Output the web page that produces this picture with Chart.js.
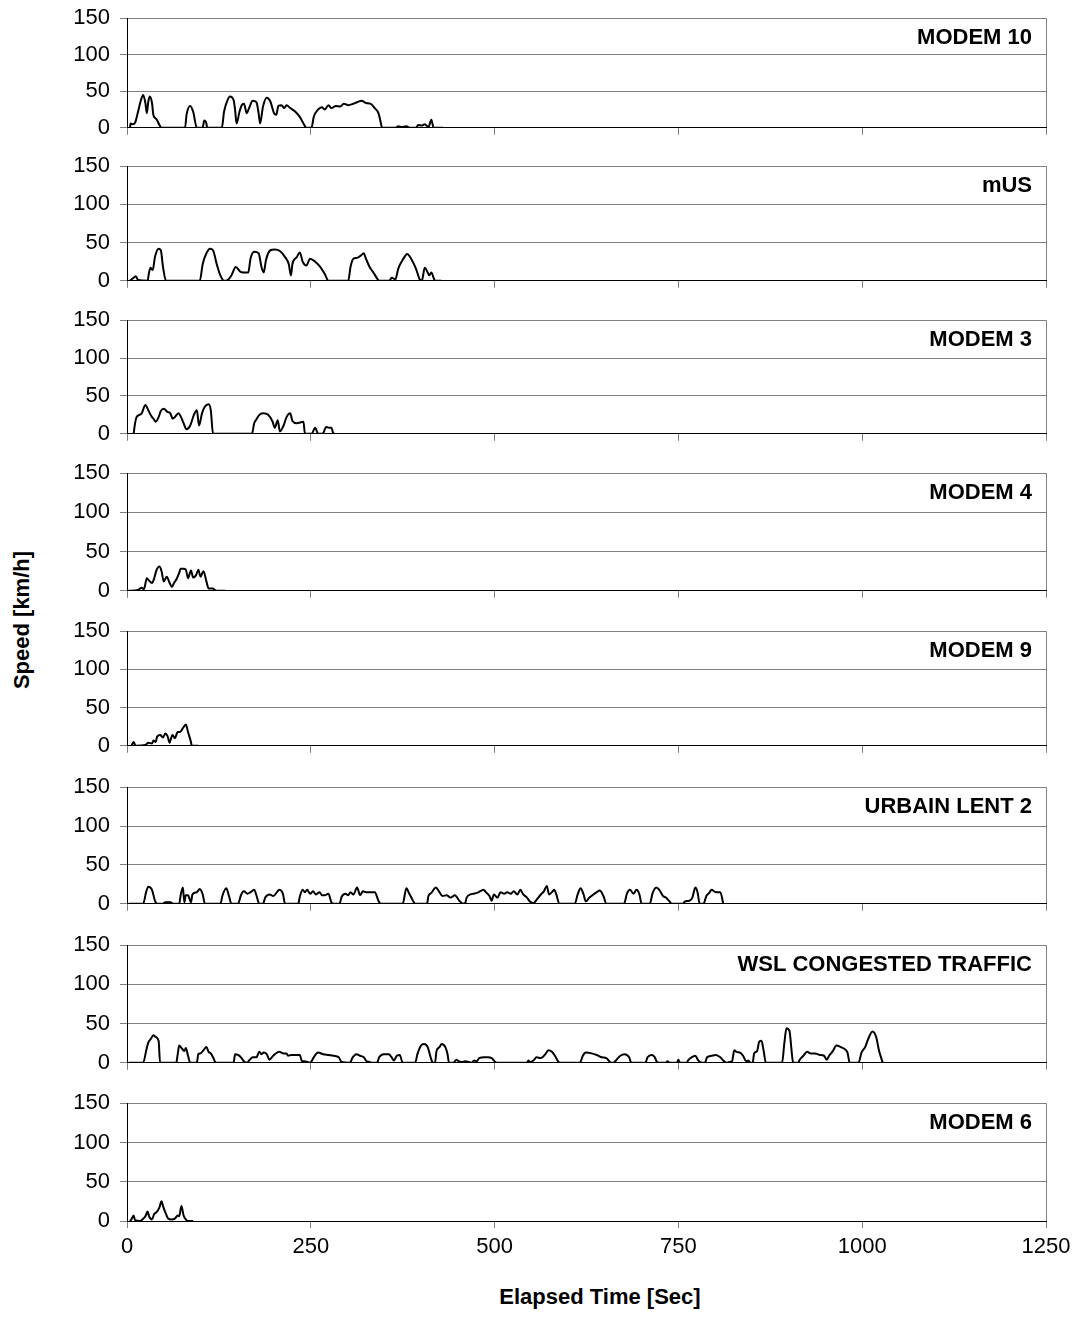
<!DOCTYPE html>
<html>
<head>
<meta charset="utf-8">
<title>Drive cycle speed traces</title>
<script src="https://cdn.jsdelivr.net/npm/chart.js@4.4.1/dist/chart.umd.min.js"></script>
<style>
  html, body { margin: 0; padding: 0; background: #fff; }
  body { position: relative; width: 1078px; height: 1317px; overflow: hidden;
         font-family: "Liberation Sans", Arial, sans-serif; color: #000; }
  canvas.panel { position: absolute; left: 0; }
  .axis-title { position: absolute; font-weight: bold; font-size: 22px; white-space: nowrap; }
  #xtitle { left: 600px; top: 1284px; transform: translateX(-50%); }
  #ytitle { left: 22px; top: 620px; transform: translate(-50%, -50%) rotate(-90deg); }
</style>
</head>
<body>
<div id="ytitle" class="axis-title">Speed [km/h]</div>
<div id="xtitle" class="axis-title">Elapsed Time [Sec]</div>
<script>
// Speed traces: [elapsed time (s), speed (km/h)]
const modem10 = [[4,0],[5,6],[8,5],[11,7],[15,22],[19,38],[22,45],[25,34],[27,20],[29,36],[31,43],[34,34],[36,17],[40,12],[44,4],[47,0],[79,0],[81,18],[86,30],[90,22],[95,0],[103,0],[105,10],[108,6],[109,0],[129,0],[132,22],[136,36],[140,43],[145,38],[147,25],[149,6],[153,22],[156,31],[159,33],[163,20],[166,27],[171,37],[176,35],[179,20],[181,6],[185,29],[190,41],[195,36],[200,20],[203,18],[206,30],[210,31],[214,27],[217,31],[222,27],[229,22],[235,15],[240,6],[244,0],[251,0],[254,15],[260,25],[265,28],[269,25],[274,31],[278,27],[284,30],[290,29],[295,33],[301,31],[308,33],[313,35],[319,37],[325,34],[331,33],[337,27],[342,20],[345,8],[347,0],[365,0],[369,2],[374,1],[380,2],[385,0],[393,0],[396,4],[401,3],[405,5],[410,1],[414,11],[417,0],[430,0]];

const mUS = [[4,0],[9,4],[12,6],[15,1],[28,0],[30,11],[32,17],[35,14],[38,31],[43,42],[46,40],[49,18],[53,0],[99,0],[103,22],[108,36],[113,42],[117,40],[122,22],[127,7],[132,0],[137,1],[142,7],[148,18],[154,12],[159,11],[165,11],[168,29],[173,38],[179,36],[183,18],[186,11],[189,27],[195,40],[201,41],[208,39],[215,31],[220,22],[223,7],[225,22],[231,31],[235,37],[239,25],[244,20],[249,29],[256,25],[263,18],[269,9],[274,0],[301,0],[304,18],[308,29],[313,30],[318,33],[322,36],[325,29],[330,18],[335,11],[341,2],[343,0],[357,0],[360,4],[365,2],[369,16],[376,29],[381,35],[387,28],[393,16],[398,2],[401,0],[405,17],[409,11],[411,7],[414,11],[417,4],[419,0],[428,0]];

const modem3 = [[9,0],[11,14],[13,22],[17,25],[20,27],[25,38],[29,31],[34,22],[36,20],[39,16],[43,22],[46,30],[50,33],[55,29],[59,27],[62,20],[65,22],[70,27],[73,23],[77,14],[81,6],[86,11],[91,25],[95,31],[98,11],[102,27],[106,36],[111,39],[114,31],[117,0],[170,0],[173,14],[176,19],[180,25],[185,27],[192,25],[198,16],[201,8],[205,18],[208,3],[213,11],[217,22],[222,27],[225,17],[231,14],[240,16],[242,0],[251,0],[256,8],[260,0],[266,0],[271,9],[275,8],[278,8],[281,0],[283,0]];

const modem4 = [[2,0],[15,1],[20,4],[23,2],[27,16],[30,13],[34,10],[37,16],[40,26],[44,31],[47,25],[50,12],[54,18],[58,10],[61,5],[64,10],[68,16],[71,23],[73,28],[77,28],[80,27],[83,16],[87,26],[90,17],[94,20],[97,27],[100,18],[104,25],[108,12],[111,3],[117,3],[121,0],[134,0]];

const modem9 = [[6,0],[9,5],[11,1],[13,0],[25,1],[29,4],[34,3],[36,7],[39,5],[41,12],[45,14],[49,11],[52,16],[55,13],[58,4],[59,7],[62,14],[65,10],[69,18],[72,18],[76,23],[80,28],[83,18],[87,5],[88,0],[97,0]];

const urbainLent2 = [[3,0],[22,0],[26,15],[29,22],[34,18],[38,4],[41,0],[49,0],[52,2],[59,2],[63,0],[71,0],[73,11],[76,21],[78,2],[80,11],[83,11],[87,2],[89,12],[95,15],[99,19],[103,12],[106,0],[127,0],[130,11],[135,20],[139,9],[142,0],[151,0],[155,11],[159,16],[164,13],[168,15],[173,18],[176,11],[180,0],[185,0],[188,8],[194,12],[199,10],[204,15],[207,18],[212,13],[215,0],[233,0],[235,9],[239,18],[242,15],[245,18],[249,13],[253,16],[257,12],[262,15],[265,11],[269,11],[274,13],[278,2],[281,0],[289,0],[292,9],[297,13],[301,11],[304,15],[308,12],[313,21],[317,11],[321,16],[325,15],[331,15],[337,15],[342,4],[345,0],[375,0],[380,20],[384,13],[389,4],[392,0],[408,0],[410,10],[414,14],[420,21],[425,15],[429,10],[435,11],[440,8],[446,11],[452,4],[457,0],[460,1],[462,8],[467,12],[471,13],[476,14],[480,16],[485,18],[488,15],[493,10],[496,4],[499,12],[504,8],[508,15],[513,13],[517,15],[522,13],[526,16],[531,12],[535,18],[539,12],[544,8],[548,3],[553,1],[557,5],[563,12],[567,16],[571,23],[574,12],[578,15],[581,18],[584,12],[588,0],[609,0],[613,12],[617,20],[621,12],[624,3],[629,8],[633,11],[639,15],[643,17],[648,10],[652,0],[676,0],[680,13],[684,18],[689,13],[693,18],[697,12],[700,0],[711,0],[715,14],[720,21],[724,18],[729,10],[733,8],[738,3],[741,0],[756,0],[759,3],[765,4],[769,8],[773,21],[776,15],[779,0],[784,0],[788,10],[792,14],[795,18],[801,15],[807,15],[811,0]];

const wslCongested = [[3,0],[22,0],[26,15],[29,26],[32,30],[36,35],[39,33],[43,28],[45,0],[67,0],[69,11],[71,22],[74,19],[78,15],[80,19],[83,9],[86,0],[95,0],[97,11],[100,12],[104,16],[108,20],[111,14],[114,12],[117,7],[121,0],[145,0],[147,11],[151,10],[155,7],[159,2],[163,0],[167,4],[171,7],[176,7],[180,14],[183,11],[186,13],[190,11],[194,4],[197,7],[201,11],[207,14],[213,12],[217,12],[219,9],[223,10],[235,10],[238,2],[242,2],[245,1],[249,0],[251,2],[254,7],[260,13],[267,11],[274,10],[281,9],[288,7],[292,1],[303,0],[307,7],[312,11],[317,9],[322,7],[326,2],[330,1],[333,0],[340,0],[343,7],[349,11],[356,11],[360,7],[363,3],[367,9],[371,10],[375,0],[392,0],[395,11],[400,22],[404,24],[409,20],[413,7],[416,0],[419,0],[421,15],[425,20],[428,24],[433,20],[436,11],[438,0],[444,0],[448,4],[451,2],[455,1],[460,2],[469,0],[472,3],[476,2],[479,6],[486,7],[491,7],[496,6],[501,1],[504,0],[544,0],[546,3],[548,1],[553,3],[557,7],[563,6],[569,11],[573,16],[578,14],[582,9],[587,1],[589,0],[616,0],[620,9],[624,13],[632,12],[639,10],[646,7],[652,6],[657,1],[661,0],[666,4],[671,9],[677,11],[683,7],[686,0],[705,0],[708,7],[714,10],[718,7],[721,1],[725,0],[733,0],[735,2],[738,0],[748,0],[750,4],[752,0],[761,0],[764,4],[768,7],[773,9],[777,3],[782,0],[786,0],[789,7],[795,9],[801,10],[807,7],[811,3],[816,0],[819,1],[823,2],[826,16],[829,14],[834,13],[838,9],[842,2],[845,3],[848,0],[851,0],[853,12],[857,15],[860,27],[863,28],[866,15],[869,0],[891,0],[894,24],[897,44],[901,41],[904,15],[906,0],[913,0],[915,4],[920,9],[925,14],[930,12],[936,12],[942,10],[948,9],[952,4],[955,9],[960,15],[965,22],[971,20],[977,17],[980,13],[983,0],[995,0],[999,13],[1004,20],[1008,30],[1014,40],[1019,33],[1023,15],[1028,0]];

const modem6 = [[4,0],[6,2],[9,7],[11,1],[18,0],[21,2],[25,6],[28,12],[30,6],[34,2],[37,9],[40,11],[44,17],[47,25],[49,19],[53,9],[56,3],[61,2],[65,3],[69,7],[71,6],[74,19],[77,7],[80,2],[83,0],[90,0]];

const cycleNames = ['MODEM 10', 'mUS', 'MODEM 3', 'MODEM 4', 'MODEM 9', 'URBAIN LENT 2', 'WSL CONGESTED TRAFFIC', 'MODEM 6'];
const cycleData = [modem10, mUS, modem3, modem4, modem9, urbainLent2, wslCongested, modem6];

const timeTicks = [0, 250, 500, 750, 1000, 1250];
const speedTicks = [0, 50, 100, 150];

// Vertical placement of each panel's plot area (top/bottom edge in page pixels)
const panelTops    = [18, 166, 320, 473, 631, 787, 945, 1103];
const panelBottoms = [128, 281, 434, 591, 746, 904, 1063, 1221];

const FONT = '"Liberation Sans", Arial, sans-serif';
const GRID = '#808080';

// Panel name in the upper-right corner of the plot area
const panelLabel = {
  id: 'panelLabel',
  afterDraw(chart, args, opts) {
    const a = chart.chartArea, ctx = chart.ctx;
    ctx.save();
    ctx.font = 'bold 22px ' + FONT;
    ctx.fillStyle = '#000';
    ctx.textAlign = 'right';
    ctx.textBaseline = 'middle';
    ctx.fillText(opts.text, a.right - 14, a.top + 20);
    ctx.restore();
  }
};

cycleNames.forEach((name, i) => {
  const last = i === cycleNames.length - 1;
  const axisH = last ? 40 : 10;
  const plotH = panelBottoms[i] - panelTops[i];
  const canvas = document.createElement('canvas');
  canvas.className = 'panel';
  canvas.width = 1078;
  canvas.height = plotH + 60;
  canvas.style.width = '1078px';
  canvas.style.height = canvas.height + 'px';
  document.body.appendChild(canvas);

  const chart = new Chart(canvas, {
    type: 'line',
    data: {
      datasets: [{
        label: name,
        data: cycleData[i].map(p => ({ x: p[0], y: p[1] })),
        borderColor: '#000',
        borderWidth: 2,
        pointRadius: 0,
        fill: false,
        cubicInterpolationMode: 'monotone'
      }]
    },
    options: {
      responsive: false,
      maintainAspectRatio: false,
      devicePixelRatio: 1,
      animation: false,
      layout: { padding: { top: 0, right: 32, left: 0, bottom: 0 } },
      plugins: {
        legend: { display: false },
        tooltip: { enabled: false },
        panelLabel: { text: name }
      },
      scales: {
        x: {
          type: 'linear',
          position: 'bottom',
          min: 0, max: 1250,
          afterBuildTicks: s => { s.ticks = timeTicks.map(v => ({ value: v })); },
          ticks: {
            display: last,
            color: '#000',
            font: { family: FONT, size: 22 },
            padding: 6,
            maxRotation: 0,
            autoSkip: false,
            callback: v => String(v)
          },
          grid: {
            drawOnChartArea: true,
            color: c => (c.tick && c.tick.value === 1250) ? GRID : 'rgba(0,0,0,0)',
            tickColor: GRID,
            tickLength: 7,
            lineWidth: 1
          },
          border: { color: '#000', width: 1 },
          afterFit: s => { s.height = axisH; }
        },
        y: {
          min: 0, max: 150,
          afterBuildTicks: s => { s.ticks = speedTicks.map(v => ({ value: v })); },
          ticks: {
            color: '#000',
            font: { family: FONT, size: 22 },
            padding: 10,
            autoSkip: false
          },
          grid: {
            color: GRID,
            tickColor: GRID,
            tickLength: 7,
            lineWidth: 1
          },
          border: { color: '#000', width: 1 },
          afterFit: s => { s.width = 127; }
        }
      }
    },
    plugins: [panelLabel]
  });

  // Grow the canvas until the plot area has the wanted height, then line it up
  for (let k = 0; k < 3; k++) {
    const a = chart.chartArea;
    const diff = plotH - (a.bottom - a.top);
    if (Math.abs(diff) < 0.5) break;
    chart.resize(1078, Math.round(canvas.height + diff));
  }
  canvas.style.top = Math.round(panelTops[i] - chart.chartArea.top) + 'px';
});
</script>
</body>
</html>
